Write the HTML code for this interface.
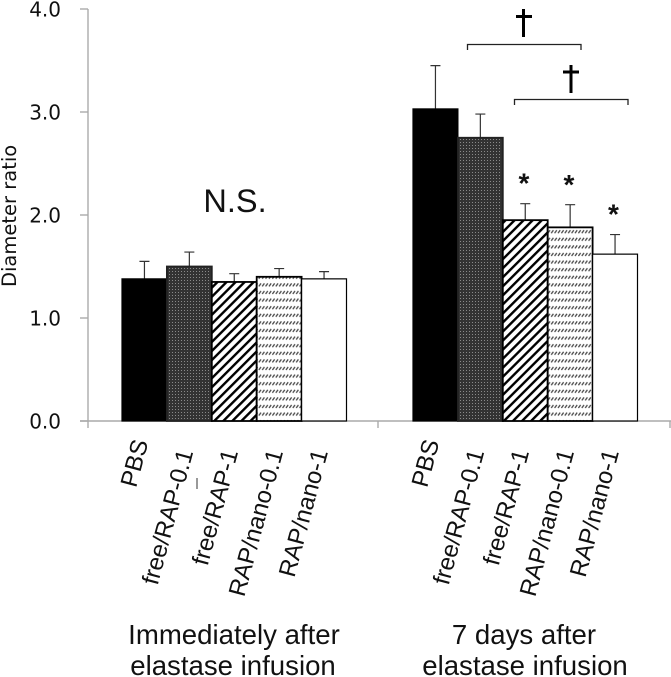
<!DOCTYPE html>
<html>
<head>
<meta charset="utf-8">
<style>
html,body{margin:0;padding:0;background:#fff;}
svg{display:block;}
text{font-family:"Liberation Sans",sans-serif;fill:#111;}
</style>
</head>
<body>
<svg id="chart" width="671" height="677" viewBox="0 0 671 677" xmlns="http://www.w3.org/2000/svg">
<defs>
<pattern id="pat-dots" width="3" height="3" patternUnits="userSpaceOnUse"><rect width="3" height="3" fill="#333"/><rect x="1" y="1" width="1" height="1" fill="#8a8a8a"/></pattern>
<pattern id="pat-diag" width="6.4" height="6.4" patternUnits="userSpaceOnUse" patternTransform="rotate(-45)"><rect width="6.4" height="6.4" fill="#fff"/><rect width="6.4" height="2.4" fill="#000"/></pattern>
<pattern id="pat-wave" width="3.4" height="7.6" patternUnits="userSpaceOnUse"><rect width="3.4" height="7.6" fill="#fff"/><path d="M0.4 5.2L2.6 2.2" stroke="#333" stroke-width="1.300" opacity="0.9"/></pattern>
</defs>
<g id="axes"></g>
<g id="bars"></g>
<g id="labels"></g>
<text transform="translate(16,287) rotate(-90)" style="font-family:'DejaVu Sans',sans-serif;font-size:19.5px">Diameter ratio</text>
<text x="235" y="212" text-anchor="middle" font-size="32.500">N.S.</text>
<path d="M467.5 50V44.5H581V50" fill="none" stroke="#222" stroke-width="1.3"/>
<path d="M514.500 105V99.500H628V105" fill="none" stroke="#222" stroke-width="1.3"/>
<path d="M523.500 9V37M516 16.500H532" fill="none" stroke="#000" stroke-width="3"/>
<path d="M571 65V93M563 72H579" fill="none" stroke="#000" stroke-width="3"/>
<text x="524" y="192.500" text-anchor="middle" font-size="28" font-weight="bold">*</text>
<text x="569" y="194" text-anchor="middle" font-size="28" font-weight="bold">*</text>
<text x="613.500" y="223.500" text-anchor="middle" font-size="28" font-weight="bold">*</text>
<line x1="197" y1="478" x2="197" y2="489" stroke="#555" stroke-width="1.200"/>
<text x="234" y="644" text-anchor="middle" font-size="27.600">Immediately after</text>
<text x="233" y="675" text-anchor="middle" font-size="27.600">elastase infusion</text>
<text x="524" y="644" text-anchor="middle" font-size="27.600">7 days after</text>
<text x="525" y="675" text-anchor="middle" font-size="27.600">elastase infusion</text>
</svg>
<script>
const categories = ["PBS", "free/RAP-0.1", "free/RAP-1", "RAP/nano-0.1", "RAP/nano-1"];
const immediateValues = [1.38, 1.50, 1.35, 1.40, 1.38];
const immediateErrors = [0.17, 0.14, 0.08, 0.08, 0.07];
const sevenDayValues = [3.03, 2.75, 1.95, 1.88, 1.62];
const sevenDayErrors = [0.42, 0.23, 0.16, 0.22, 0.19];
const yTicks = ["0.0", "1.0", "2.0", "3.0", "4.0"];

const NS = "http://www.w3.org/2000/svg";
const yScale = v => 421 - v * 103;
const barX = (groupIndex, i) => (groupIndex === 0 ? 122 : 413) + i * 44.9;
const barWidth = 44.9;
const fills = ["#000", "url(#pat-dots)", "url(#pat-diag)", "url(#pat-wave)", "#fff"];

function make(tag, attrs, parent) {
  const el = document.createElementNS(NS, tag);
  for (const k in attrs) el.setAttribute(k, attrs[k]);
  parent.appendChild(el);
  return el;
}

const axes = document.getElementById("axes");
const bars = document.getElementById("bars");
const labels = document.getElementById("labels");
const axisStyle = { stroke: "#aaa", "stroke-width": 1.4 };

const yAxis = make("line", Object.assign({ x1: 88, x2: 88, y1: 9, y2: 428 }, axisStyle), axes);


const xAxis = make("line", Object.assign({ x1: 80, x2: 671, y1: 421, y2: 421 }, axisStyle), axes);


[378, 670].forEach(x => {
  const sep = make("line", Object.assign({ x1: x, x2: x, y1: 421, y2: 428 }, axisStyle), axes);
  
  
});

yTicks.forEach(t => {
  const y = yScale(parseFloat(t));
  const tick = make("line", Object.assign({ x1: 80, x2: 88, y1: y, y2: y }, axisStyle), axes);
  
  
  const label = make("text", { x: 61, y: y + 7.5, "text-anchor": "end", "font-size": 20, style: "font-family:'DejaVu Sans',sans-serif" }, axes);
  
  
  label.textContent = t;
});

function drawGroup(values, errors, groupIndex) {
  values.forEach((v, i) => {
    const x = barX(groupIndex, i);
    const top = yScale(v);
    const errTop = yScale(v + errors[i]);
    const cx = x + barWidth / 2;
    const err = make("path", { d: `M${cx} ${top}V${errTop}M${cx - 5} ${errTop}H${cx + 5}`, fill: "none", stroke: "#333", "stroke-width": 1.2 }, bars);
    
    
    const bar = make("rect", { x: x, y: top, width: barWidth, height: 421 - top, fill: fills[i], stroke: i === 1 ? "#222" : "#000", "stroke-width": i === 0 || i === 4 ? 1.2 : 1.8 }, bars);
    
    
    const endX = x + barWidth / 2 + (i === 0 ? 4 : 4);
    const endY = i === 0 ? 448 : 458;
    const label = make("text", { transform: `translate(${endX},${endY - 6}) rotate(-75)`, "text-anchor": "end", "font-size": 24 }, labels);
    
    
    label.textContent = categories[i];
  });
}

drawGroup(immediateValues, immediateErrors, 0);
drawGroup(sevenDayValues, sevenDayErrors, 1);
</script>
</body>
</html>
